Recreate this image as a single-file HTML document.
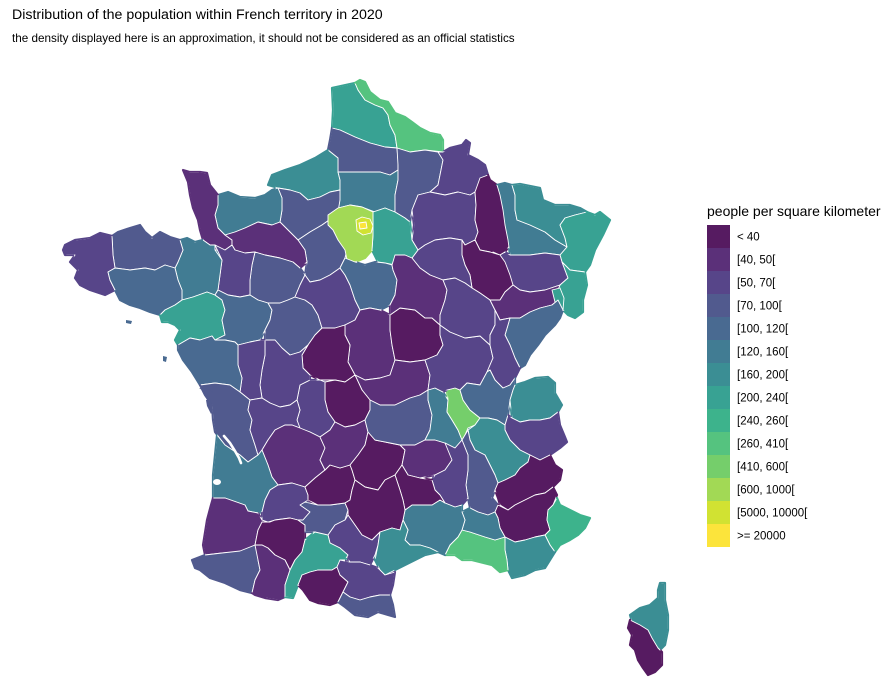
<!DOCTYPE html>
<html><head><meta charset="utf-8"><style>
html,body{margin:0;padding:0;background:#fff;}
svg{display:block;font-family:"Liberation Sans",Arial,sans-serif;}
#map polygon{stroke:#fff;stroke-width:0.9;stroke-linejoin:round;}
.c1{fill:#561B61}.c2{fill:#5B3079}.c3{fill:#574589}.c4{fill:#515A8E}.c5{fill:#496A91}.c6{fill:#417C93}.c7{fill:#3B8E94}
.c8{fill:#38A293}.c9{fill:#3DB38C}.c10{fill:#55C37F}.c11{fill:#75CE6B}.c12{fill:#A2D955}.c13{fill:#D1E232}.c14{fill:#FCE43B}
</style></head><body>
<svg width="894" height="683" viewBox="0 0 894 683" xmlns="http://www.w3.org/2000/svg">
<defs>
<filter id="erode" x="0" y="0" width="894" height="683" filterUnits="userSpaceOnUse"><feMorphology operator="erode" radius="1.6"/></filter>
<mask id="landmask" maskUnits="userSpaceOnUse" x="0" y="0" width="894" height="683"><g id="maskg" filter="url(#erode)"></g></mask>
</defs>
<rect width="894" height="683" fill="#fff"/>
<text x="12" y="19" font-size="14.2" fill="#000">Distribution of the population within French territory in 2020</text>
<text x="12" y="42" font-size="11.7" fill="#000">the density displayed here is an approximation, it should not be considered as an official statistics</text>
<g id="under"></g>
<g id="map" mask="url(#landmask)">
<polygon class="c8" points="332,88 355,83 358,90 365,100 375,105 383,108 388,115 390,125 395,135 397,148 385,147 370,143 355,137 340,130 332,128 333,110"/>
<polygon class="c10" points="355,83 360,80 365,82 370,92 380,100 388,102 395,113 405,117 412,122 420,128 430,133 440,135 443,140 443,152 425,150 410,152 397,148 395,135 390,125 388,115 383,108 375,105 365,100 358,90"/>
<polygon class="c4" points="332,128 340,130 355,137 370,143 385,147 397,148 398,160 398,170 390,175 380,172 365,172 350,172 338,172 338,158 328,150 330,140"/>
<polygon class="c7" points="268,185 272,175 285,170 300,165 315,158 328,150 338,158 338,172 340,180 340,190 330,192 320,197 308,200 300,193 290,190 278,188"/>
<polygon class="c6" points="338,172 350,172 365,172 380,172 390,175 398,170 398,180 395,195 395,212 385,208 375,212 362,207 350,205 338,208 336,200 340,190 340,180"/>
<polygon class="c4" points="397,148 410,152 425,150 438,152 443,152 443,160 440,175 438,185 430,192 418,195 412,210 410,222 405,218 395,212 395,195 398,180 398,165"/>
<polygon class="c3" points="438,152 443,152 450,148 462,145 466,140 470,143 468,155 478,160 485,165 488,175 480,180 475,192 470,195 458,192 445,195 430,192 438,185 440,175 443,160"/>
<polygon class="c3" points="418,195 430,192 445,195 458,192 470,195 475,192 476,205 475,220 478,232 475,240 465,245 462,240 450,238 435,240 425,245 418,250 412,240 414,225 412,210"/>
<polygon class="c1" points="480,178 488,175 490,180 497,185 503,200 505,215 508,230 510,245 505,252 500,255 490,252 480,250 475,240 478,232 475,220 476,205 475,192"/>
<polygon class="c6" points="497,185 505,183 512,185 515,195 515,210 517,220 530,225 545,232 555,240 567,247 560,255 545,253 530,255 515,255 510,255 508,240 505,225 503,210 500,195"/>
<polygon class="c7" points="512,185 520,184 530,186 540,188 543,200 555,205 570,205 580,208 587,212 575,215 565,218 560,225 565,238 567,247 555,240 545,232 530,225 517,220 515,210 515,195"/>
<polygon class="c8" points="575,215 587,212 595,215 600,212 610,220 603,235 595,250 590,265 585,272 570,270 562,262 560,255 567,247 565,238 560,225 565,218"/>
<polygon class="c3" points="493,252 500,255 505,252 510,255 530,255 545,253 560,255 562,262 565,270 568,278 560,285 545,290 530,292 520,290 513,285 505,280 498,270"/>
<polygon class="c8" points="562,262 570,270 585,272 587,285 583,300 583,312 575,318 568,315 563,310 558,300 557,292 560,285 568,278"/>
<polygon class="c1" points="462,240 465,245 475,240 480,250 490,252 500,255 505,262 510,275 513,285 505,292 500,300 490,300 480,293 472,288 470,275 465,265 462,255"/>
<polygon class="c3" points="412,258 418,250 425,245 435,240 450,238 462,240 462,255 465,265 470,275 472,288 465,283 455,278 443,280 430,275 420,268"/>
<polygon class="c8" points="373,212 385,208 395,212 405,218 410,222 412,240 418,250 412,258 405,263 395,265 385,263 378,262 372,250 373,235"/>
<polygon class="c4" points="278,188 290,190 300,193 308,200 320,197 330,192 340,190 340,200 338,212 332,218 322,225 310,232 298,240 290,232 280,222 282,210 282,198"/>
<polygon class="c4" points="310,232 322,225 332,218 338,220 345,235 348,245 345,258 340,268 330,275 320,280 310,282 305,275 307,262 305,250 298,240"/>
<polygon class="c12" points="328,215 338,208 350,205 362,207 373,212 373,235 372,250 365,258 355,262 347,260 345,250 338,240 333,230 328,225"/>
<polygon class="c13" points="356,220 362,217 370,219 373,226 371,233 363,235 357,231"/>
<polygon class="c14" points="359,223 366,222 367,228 360,229"/>
<polygon class="c6" points="218,195 228,192 240,197 255,198 265,195 272,190 278,188 282,198 282,210 280,222 272,225 258,222 245,228 235,232 225,235 218,228 215,215 218,205"/>
<polygon class="c2" points="183,170 190,172 200,172 207,173 210,185 218,195 218,205 215,215 218,228 225,235 232,240 232,245 225,250 215,250 210,245 203,240 200,230 198,220 193,208 190,195 188,182"/>
<polygon class="c2" points="225,235 235,232 245,228 258,222 272,225 280,222 290,232 298,240 305,250 307,262 300,268 293,262 280,258 265,255 255,252 245,253 235,250 232,245 232,240"/>
<polygon class="c4" points="255,252 265,255 280,258 293,262 300,268 305,275 300,285 295,297 288,300 280,303 268,303 258,300 250,295 250,280 252,265"/>
<polygon class="c3" points="215,245 225,250 232,245 235,250 245,253 255,252 252,265 250,280 250,295 240,297 228,295 218,290 220,275 222,260"/>
<polygon class="c6" points="180,240 187,238 195,242 203,240 210,245 215,245 215,250 222,260 220,275 218,290 215,295 207,292 193,297 182,300 182,290 178,280 175,268 178,262 183,250"/>
<polygon class="c4" points="112,236 118,232 130,228 140,225 145,232 152,238 160,232 170,237 180,240 183,250 178,262 175,268 165,265 155,270 145,268 130,270 115,268 113,255"/>
<polygon class="c3" points="65,245 75,240 90,238 100,233 112,236 113,255 115,268 108,272 110,280 115,290 105,295 90,290 80,285 75,278 78,270 70,262 75,255 65,255 63,250"/>
<polygon class="c5" points="108,272 115,268 130,270 145,268 155,270 165,265 175,268 178,280 182,290 182,300 175,305 165,310 160,315 150,312 140,308 130,305 120,300 115,290 110,280"/>
<polygon class="c8" points="182,300 193,297 207,292 215,295 222,300 225,310 222,320 225,335 215,340 212,336 200,340 190,338 178,345 175,340 180,330 175,325 168,322 162,322 160,315 165,310 175,305"/>
<polygon class="c5" points="218,290 228,295 240,297 250,295 258,300 268,303 272,310 270,320 265,330 260,340 250,342 238,345 235,342 225,340 215,340 225,335 222,320 225,310 222,300 215,295"/>
<polygon class="c4" points="268,303 280,303 288,300 295,297 305,300 312,305 318,315 322,328 315,335 308,345 300,352 290,355 282,348 275,340 265,340 265,330 270,320 272,310"/>
<polygon class="c3" points="305,275 310,282 320,280 330,275 340,268 345,275 350,285 355,300 360,310 355,320 345,325 335,328 322,328 318,315 312,305 305,300 295,297 300,285"/>
<polygon class="c5" points="340,268 345,258 355,262 365,265 375,262 385,263 392,265 393,270 397,280 395,295 390,305 380,310 370,308 360,310 355,300 350,285 345,275"/>
<polygon class="c2" points="345,325 355,320 360,310 370,308 380,310 390,315 390,330 392,345 395,360 390,375 380,378 365,380 355,375 348,362 350,345 345,335"/>
<polygon class="c1" points="308,345 315,335 322,328 335,328 345,325 345,335 350,345 348,362 355,375 345,382 335,380 320,380 310,375 303,368 302,355"/>
<polygon class="c1" points="390,315 400,308 415,310 425,318 432,318 440,325 440,335 443,345 437,355 425,360 410,362 395,360 392,345 390,330"/>
<polygon class="c2" points="392,265 395,255 405,255 412,258 420,268 430,275 443,280 447,290 445,300 440,315 440,325 432,318 425,318 415,310 400,308 390,315 390,305 395,295 397,280 393,270"/>
<polygon class="c2" points="355,375 365,380 380,378 390,375 395,360 410,362 425,360 430,375 428,390 420,395 410,398 395,405 380,405 370,400 362,390"/>
<polygon class="c1" points="325,382 335,380 345,382 355,375 362,390 370,400 370,410 365,420 355,425 345,427 335,422 328,412 325,400"/>
<polygon class="c3" points="300,385 310,380 320,380 325,382 325,400 328,412 335,422 330,430 320,437 310,432 300,430 297,420 300,410 297,400"/>
<polygon class="c3" points="265,340 275,340 282,348 290,355 300,352 308,345 302,355 303,368 310,375 310,380 300,385 297,400 290,405 280,407 270,403 262,398 260,385 262,370 265,355"/>
<polygon class="c3" points="238,345 250,342 260,340 265,340 265,355 262,370 260,385 262,398 250,400 240,392 242,378 238,365 238,350"/>
<polygon class="c5" points="178,345 190,338 200,340 212,336 215,340 225,340 235,342 238,345 238,350 238,365 242,378 240,392 230,385 215,383 200,385 192,372 183,360 178,350"/>
<polygon class="c4" points="200,385 215,383 230,385 240,392 250,400 248,410 252,420 250,430 255,445 258,455 248,462 240,455 225,445 215,432 213,420 212,405 205,395"/>
<polygon class="c3" points="250,400 262,398 270,403 280,407 290,405 297,400 300,410 297,420 300,428 292,425 285,425 275,430 268,440 262,450 258,455 255,445 250,430 252,420 248,410"/>
<polygon class="c2" points="268,440 275,430 285,425 292,425 300,428 310,432 320,437 325,448 320,460 325,470 315,478 305,487 292,483 278,485 272,477 268,465 262,450"/>
<polygon class="c6" points="217,435 225,445 240,455 248,462 258,455 262,450 268,465 272,477 278,485 270,490 265,500 262,512 258,513 248,511 245,505 225,498 213,498 213,475 215,455"/>
<polygon class="c2" points="213,498 225,498 245,505 248,511 258,513 262,520 268,522 265,530 258,530 255,545 250,550 240,552 222,553 205,555 203,545 207,520 211,505"/>
<polygon class="c3" points="270,490 278,485 292,483 305,487 308,495 308,500 305,502 310,512 303,520 298,520 290,518 275,520 268,522 262,520 262,512 265,500"/>
<polygon class="c1" points="258,530 262,522 270,522 275,520 290,518 298,520 305,525 305,540 302,552 295,560 290,570 285,560 275,555 268,548 262,545 255,545"/>
<polygon class="c4" points="192,560 205,555 222,553 240,551 255,545 262,545 258,560 260,570 255,580 252,593 240,590 225,583 210,578 200,570 195,568"/>
<polygon class="c2" points="255,545 262,545 268,548 275,555 285,560 290,570 285,585 285,597 278,600 265,598 255,595 252,593 255,580 260,570 258,560"/>
<polygon class="c4" points="300,505 305,502 318,505 330,505 345,503 348,510 345,520 335,525 328,535 325,535 315,532 305,532 305,525 298,520 303,520 310,512"/>
<polygon class="c1" points="305,487 315,478 325,470 330,465 340,468 350,465 352,470 355,480 352,490 350,500 345,503 330,505 318,505 308,500 308,495"/>
<polygon class="c2" points="320,437 330,430 335,422 345,427 355,425 365,420 368,432 365,445 358,455 350,465 340,468 330,465 325,470 320,460 325,448"/>
<polygon class="c1" points="358,455 365,445 368,432 375,440 390,443 400,445 405,450 402,465 395,475 385,480 378,490 365,487 355,480 352,470 350,465"/>
<polygon class="c4" points="370,400 380,405 395,405 410,398 420,395 428,390 428,400 432,415 430,430 425,440 415,445 400,445 390,443 375,440 368,432 365,420 370,410"/>
<polygon class="c2" points="400,445 415,445 425,440 435,440 445,443 455,448 452,460 445,470 435,475 420,478 408,475 402,465 405,450"/>
<polygon class="c6" points="428,390 435,388 443,392 448,400 447,412 452,420 458,430 462,440 455,448 445,443 435,440 425,440 430,430 432,415 428,400"/>
<polygon class="c11" points="447,390 455,388 460,390 463,400 470,410 480,418 475,425 468,428 465,435 462,440 458,430 452,420 447,412 448,400"/>
<polygon class="c3" points="437,355 443,345 440,335 440,325 450,332 465,338 480,336 490,345 493,358 487,372 480,385 467,383 460,390 455,388 447,390 443,392 435,388 428,390 430,375 425,360"/>
<polygon class="c3" points="443,280 455,278 465,283 472,288 480,293 490,300 495,310 495,325 490,335 490,345 480,336 465,338 450,332 440,325 440,315 445,300 447,290"/>
<polygon class="c2" points="490,300 500,300 505,292 513,285 520,290 530,292 545,290 560,285 557,292 558,300 552,305 540,308 530,312 520,318 510,318 500,320 495,310"/>
<polygon class="c8" points="552,290 560,288 564,298 563,310 556,306"/>
<polygon class="c5" points="510,318 520,318 530,312 540,308 552,305 558,300 563,310 560,318 555,325 545,335 538,345 530,355 525,365 520,368 515,358 510,345 505,335 508,325"/>
<polygon class="c3" points="495,310 500,320 510,318 508,325 505,335 510,345 515,358 520,368 515,378 510,385 503,388 495,380 490,370 487,372 493,358 490,345 490,335 495,325"/>
<polygon class="c5" points="480,385 487,372 490,370 495,380 503,388 510,385 515,378 515,385 513,390 510,400 508,415 505,425 497,420 488,418 480,418 470,410 463,400 460,390 467,383"/>
<polygon class="c7" points="515,385 525,382 535,378 548,377 555,383 555,393 562,405 558,412 550,418 540,420 530,420 520,422 512,418 510,400 513,390"/>
<polygon class="c3" points="508,415 512,418 520,422 530,420 540,420 550,418 558,412 560,425 565,437 567,442 560,448 550,455 540,460 530,455 520,450 510,440 505,430 505,425"/>
<polygon class="c7" points="480,418 488,418 497,420 505,425 505,430 510,440 520,450 530,455 528,462 520,468 515,475 505,480 498,483 495,475 490,465 485,455 475,450 470,440 468,430 475,425"/>
<polygon class="c4" points="465,435 468,430 470,440 475,450 485,455 490,465 495,475 498,483 495,490 492,498 498,505 495,512 488,515 478,512 470,508 468,498 466,485 468,470 468,455 462,440"/>
<polygon class="c3" points="445,443 455,448 462,440 468,455 468,470 466,485 468,498 462,505 455,507 445,503 440,495 435,490 432,480 435,475 445,470 452,460"/>
<polygon class="c1" points="530,455 540,460 550,455 555,465 562,470 560,480 553,487 545,493 535,495 525,500 515,505 508,510 500,505 498,498 495,490 498,483 505,480 515,475 520,468 528,462"/>
<polygon class="c1" points="498,505 508,510 515,505 525,500 535,495 545,493 553,487 557,495 553,505 548,510 547,520 550,530 545,535 535,537 525,540 515,542 505,537 500,528 498,518 495,512"/>
<polygon class="c9" points="553,505 557,498 560,505 570,510 580,515 590,518 585,528 578,535 570,540 560,545 555,552 550,545 545,535 550,530 547,520 548,510"/>
<polygon class="c7" points="505,537 515,542 525,540 535,537 545,535 550,545 555,552 550,560 545,568 535,570 525,575 512,578 508,570 507,560 505,550"/>
<polygon class="c10" points="462,530 470,532 485,537 495,540 505,537 505,550 507,560 508,570 500,572 492,565 480,562 472,560 462,560 455,555 445,555 450,545 458,537"/>
<polygon class="c6" points="462,512 470,508 478,512 488,515 495,512 498,518 500,528 505,537 495,540 485,537 470,532 462,530 465,520"/>
<polygon class="c6" points="405,510 412,505 420,505 432,505 440,500 445,503 455,507 462,505 462,512 465,520 462,530 458,537 450,545 445,555 438,552 430,548 420,545 410,545 405,540 408,530 403,520"/>
<polygon class="c1" points="402,465 408,475 420,478 432,480 435,490 440,495 445,503 440,500 432,505 420,505 412,505 405,510 403,500 400,490 395,475"/>
<polygon class="c1" points="352,490 355,480 365,487 378,490 385,480 395,475 400,490 403,500 405,510 403,520 400,530 392,528 380,532 372,540 362,535 355,525 348,515 348,510 345,503 350,500"/>
<polygon class="c3" points="345,520 348,515 355,525 362,535 372,540 380,532 378,545 375,555 370,565 360,562 350,562 345,555 340,548 330,543 328,535 335,525"/>
<polygon class="c7" points="380,532 392,528 400,530 403,520 408,530 405,540 410,545 420,545 430,548 438,552 425,555 415,560 405,565 395,570 385,575 380,570 375,560 378,545"/>
<polygon class="c8" points="305,540 315,532 328,535 330,543 340,548 348,555 345,560 340,560 337,567 332,570 318,570 310,572 302,575 298,585 293,598 285,597 285,585 290,570 295,560 302,552"/>
<polygon class="c1" points="302,575 310,572 318,570 332,570 337,567 340,575 348,582 343,592 338,602 330,605 318,603 310,600 303,590 298,585"/>
<polygon class="c3" points="340,560 350,562 360,562 370,565 378,568 385,575 395,572 393,585 390,595 380,595 370,597 360,600 350,597 343,592 348,582 340,575 337,567"/>
<polygon class="c4" points="343,592 350,597 360,600 370,597 380,595 390,595 393,605 395,617 388,615 378,612 368,617 355,615 345,607 338,602"/>
<polygon class="c7" points="660,583 665,583 665,600 668,615 668,630 665,645 660,650 655,645 650,635 642,628 632,622 630,615 640,608 650,605 658,598 658,590"/>
<polygon class="c1" points="630,620 640,625 648,630 652,638 658,648 662,652 662,665 655,672 648,675 643,668 638,660 635,650 630,645 632,635 628,628"/>
</g>
<g>
<polygon points="126,320 132,321 131,324 126,323" fill="#496A91"/>
<polygon points="163,356 167,357 166,362 163,361" fill="#496A91"/>
<polygon points="199,388 208,389 213,392 206,393" fill="#515A8E"/>
<polygon points="206,400 210,399 213,410 211,414 207,406" fill="#515A8E"/>
<polyline points="224,436 230,443 235,451 239,458 241,463" fill="none" stroke="#fff" stroke-width="2.6" stroke-linecap="round"/>
<ellipse cx="217" cy="482" rx="4" ry="3" fill="#fff"/>
</g>
<text x="707" y="216" font-size="14" fill="#000">people per square kilometer</text>
<g>
<rect x="707" y="225" width="23" height="23" class="c1"/>
<rect x="707" y="248" width="23" height="23" class="c2"/>
<rect x="707" y="271" width="23" height="23" class="c3"/>
<rect x="707" y="294" width="23" height="23" class="c4"/>
<rect x="707" y="317" width="23" height="23" class="c5"/>
<rect x="707" y="340" width="23" height="23" class="c6"/>
<rect x="707" y="363" width="23" height="23" class="c7"/>
<rect x="707" y="386" width="23" height="23" class="c8"/>
<rect x="707" y="409" width="23" height="23" class="c9"/>
<rect x="707" y="432" width="23" height="23" class="c10"/>
<rect x="707" y="455" width="23" height="23" class="c11"/>
<rect x="707" y="478" width="23" height="23" class="c12"/>
<rect x="707" y="501" width="23" height="23" class="c13"/>
<rect x="707" y="524" width="23" height="23" class="c14"/>
</g>
<g font-size="11.5" fill="#000">
<text x="737" y="240.5">&lt; 40</text>
<text x="737" y="263.5">[40, 50[</text>
<text x="737" y="286.5">[50, 70[</text>
<text x="737" y="309.5">[70, 100[</text>
<text x="737" y="332.5">[100, 120[</text>
<text x="737" y="355.5">[120, 160[</text>
<text x="737" y="378.5">[160, 200[</text>
<text x="737" y="401.5">[200, 240[</text>
<text x="737" y="424.5">[240, 260[</text>
<text x="737" y="447.5">[260, 410[</text>
<text x="737" y="470.5">[410, 600[</text>
<text x="737" y="493.5">[600, 1000[</text>
<text x="737" y="516.5">[5000, 10000[</text>
<text x="737" y="539.5">&gt;= 20000</text>
</g>
</svg>
<script>
(function(){
  var NS='http://www.w3.org/2000/svg';
  var map=document.getElementById('map'), under=document.getElementById('under'),
      maskg=document.getElementById('maskg');
  var ps=map.querySelectorAll('polygon');
  for(var i=0;i<ps.length;i++){
    var p=ps[i], c=getComputedStyle(p).fill, pts=p.getAttribute('points');
    var q=document.createElementNS(NS,'polygon');
    q.setAttribute('points',pts);
    q.setAttribute('fill',c);
    q.setAttribute('stroke',c);
    q.setAttribute('stroke-width','2.2');
    q.setAttribute('stroke-linejoin','round');
    under.appendChild(q);
    var m=document.createElementNS(NS,'polygon');
    m.setAttribute('points',pts);
    m.setAttribute('fill','#fff');
    m.setAttribute('stroke','#fff');
    m.setAttribute('stroke-width','2.2');
    m.setAttribute('stroke-linejoin','round');
    maskg.appendChild(m);
  }
})();
</script>
</body></html>
